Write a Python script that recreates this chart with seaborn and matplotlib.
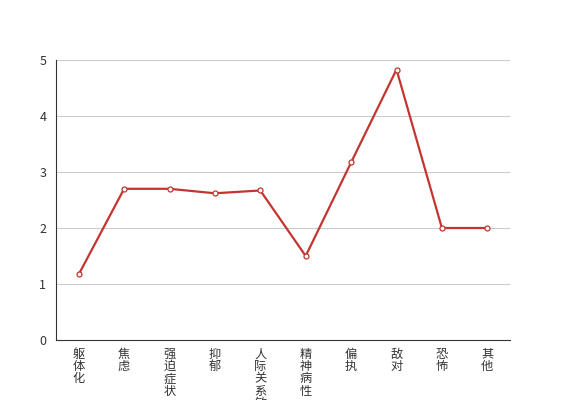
import matplotlib
matplotlib.use("Agg")
import matplotlib.pyplot as plt
import seaborn as sns
import numpy as np
import pandas as pd

categories = ["躯体化", "焦虑", "强迫症状", "抑郁", "人际关系敏感",
              "精神病性", "偏执", "敌对", "恐怖", "其他"]
scores = [1.17, 2.70, 2.70, 2.62, 2.67, 1.50, 3.17, 4.83, 2.00, 2.00]

sns.set_style("white")
plt.rcParams['font.family'] = ['Noto Sans CJK SC', 'DejaVu Sans']

df = pd.DataFrame({"pos": np.arange(len(categories)), "score": scores})

fig = plt.figure(figsize=(5.67, 4.0), dpi=100)
ax = fig.add_axes([56 / 567, 60 / 400, 454 / 567, 280 / 400])

for v in range(1, 6):
    ax.axhline(v, color="#cccccc", lw=0.8, zorder=0)

sns.lineplot(data=df, x="pos", y="score", ax=ax, color="#c23531", lw=1.6,
             marker="o", markersize=3.6, markerfacecolor="white",
             markeredgecolor="#c23531", markeredgewidth=0.9)

ax.set_xlim(-0.5, len(categories) - 0.5)
ax.set_ylim(0, 5)
ax.set_xlabel("")
ax.set_ylabel("")

ax.set_xticks(np.arange(len(categories)))
ax.set_xticklabels(["\n".join(c) for c in categories], fontsize=8.8,
                   color="#333333", linespacing=0.93, va="top")
ax.set_xticks(np.arange(len(categories) + 1) - 0.5, minor=True)
ax.tick_params(axis="x", which="major", length=0, pad=5.5)
ax.tick_params(axis="x", which="minor", length=4, width=0.8,
               color="#333333", direction="out")
ax.set_yticks(range(0, 6))
ax.tick_params(axis="y", length=4, width=0.8, color="#333333",
               direction="out", labelsize=9, labelcolor="#333333", pad=3)

for side in ["top", "right"]:
    ax.spines[side].set_visible(False)
for side in ["left", "bottom"]:
    ax.spines[side].set_color("#333333")
    ax.spines[side].set_linewidth(0.8)

fig.savefig("out.png", dpi=100)
